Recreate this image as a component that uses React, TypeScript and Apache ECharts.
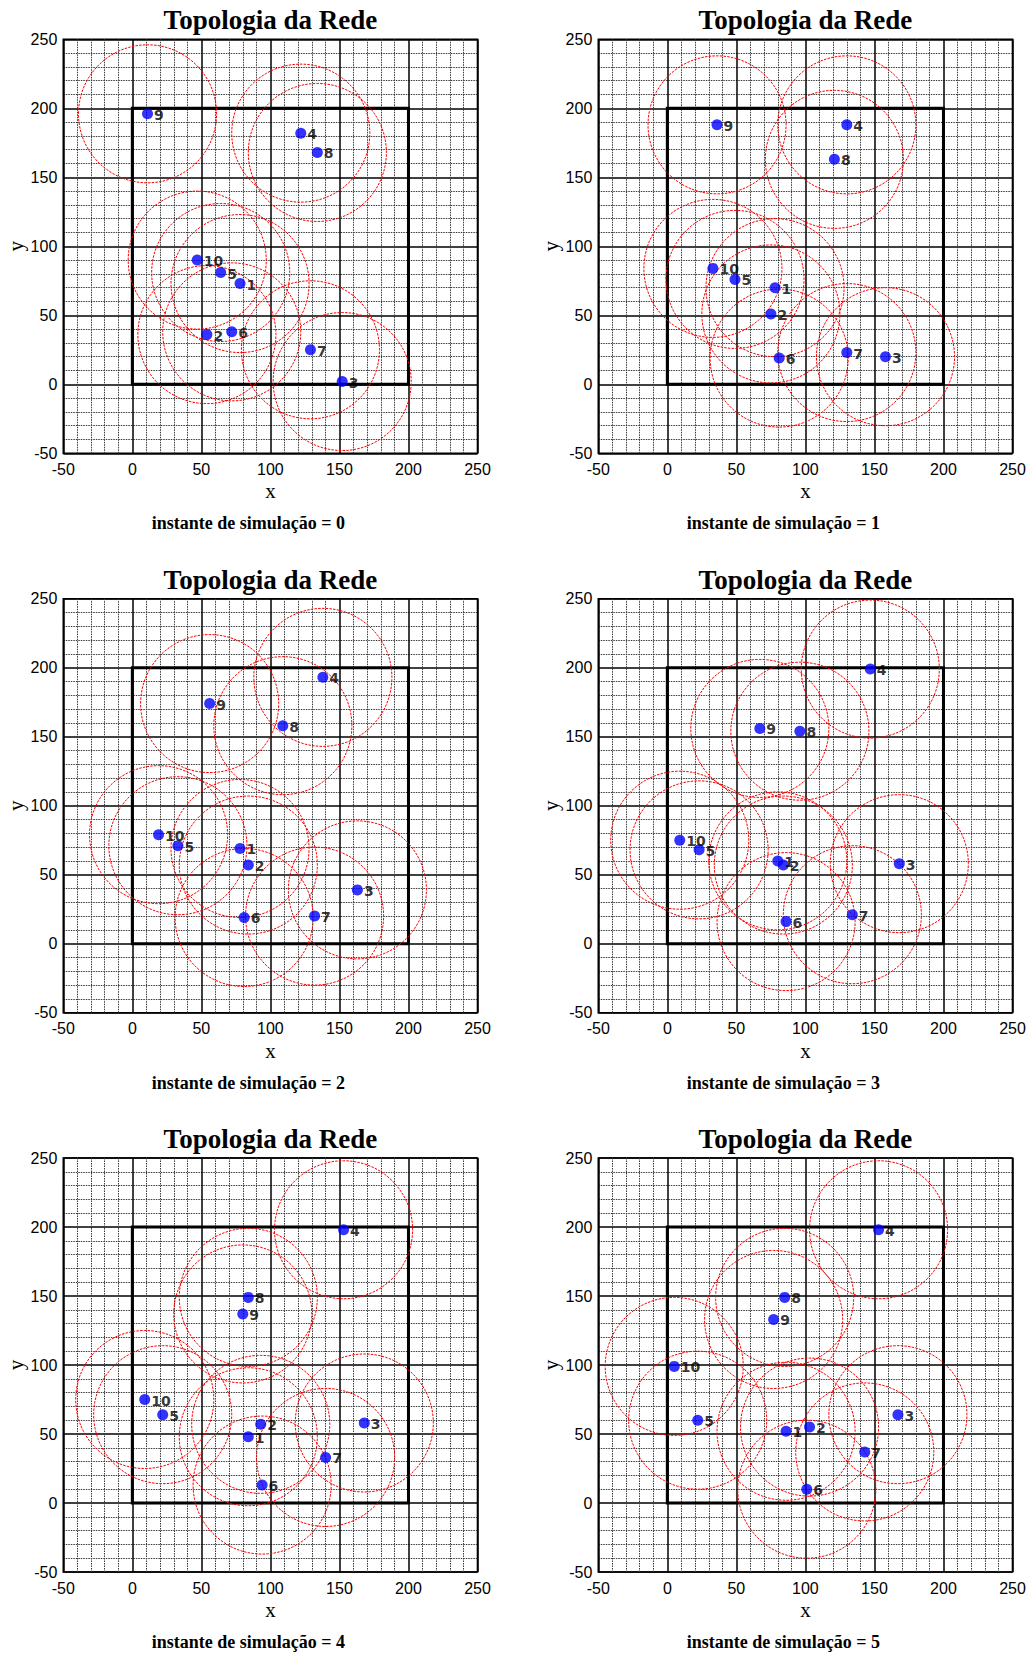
import React, { useEffect, useRef } from "react";
import * as echarts from "echarts";

// ---- data ----
const nodeIds = [1, 2, 3, 4, 5, 6, 7, 8, 9, 10];
const instants = [0, 1, 2, 3, 4, 5];
const RANGE = 50; // transmission radius
const AREA_MIN = 0;
const AREA_MAX = 200;
const AXIS_MIN = -50;
const AXIS_MAX = 250;
const AXIS_STEP = 50;

const posX_t0 = [78, 54, 152, 122, 64, 72, 129, 134, 11, 47];
const posY_t0 = [73, 36, 2, 182, 81, 38, 25, 168, 196, 90];
const posX_t1 = [78, 75, 158, 130, 49, 81, 130, 121, 36, 33];
const posY_t1 = [70, 51, 20, 188, 76, 19, 23, 163, 188, 84];
const posX_t2 = [78, 84, 163, 138, 33, 81, 132, 109, 56, 19];
const posY_t2 = [69, 57, 39, 193, 71, 19, 20, 158, 174, 79];
const posX_t3 = [80, 84, 168, 147, 23, 86, 134, 96, 67, 9];
const posY_t3 = [60, 57, 58, 199, 68, 16, 21, 154, 156, 75];
const posX_t4 = [84, 93, 168, 153, 22, 94, 140, 84, 80, 9];
const posY_t4 = [48, 57, 58, 198, 64, 13, 33, 149, 137, 75];
const posX_t5 = [86, 103, 167, 153, 22, 101, 143, 85, 77, 5];
const posY_t5 = [52, 55, 64, 198, 60, 10, 37, 149, 133, 99];

const allX = [posX_t0, posX_t1, posX_t2, posX_t3, posX_t4, posX_t5];
const allY = [posY_t0, posY_t1, posY_t2, posY_t3, posY_t4, posY_t5];

// ---- layout ----
const COL_LEFT = [63.3, 598.3];
const ROW_TOP = [39.3, 598.7, 1158];
const GRID_W = 414.2;
const GRID_H = 414;

export default function App() {
  const ref = useRef<HTMLDivElement>(null);

  useEffect(() => {
    document.body.style.margin = "0";
    const chart = echarts.init(ref.current!, null, { renderer: "svg" });

    const grids: any[] = [];
    const xAxes: any[] = [];
    const yAxes: any[] = [];
    const series: any[] = [];
    const graphics: any[] = [];

    instants.forEach((t, i) => {
      const row = Math.floor(i / 2);
      const col = i % 2;
      const left = COL_LEFT[col];
      const top = ROW_TOP[row];
      const cx = left + GRID_W / 2;
      const bottom = top + GRID_H;

      grids.push({
        left,
        top,
        width: GRID_W,
        height: GRID_H,
        show: true,
        borderColor: "#000",
        borderWidth: 1.6,
        backgroundColor: "transparent",
      });

      const axisCommon = {
        type: "value",
        gridIndex: i,
        min: AXIS_MIN,
        max: AXIS_MAX,
        interval: AXIS_STEP,
        axisLine: { show: false },
        axisTick: { show: false },
        splitLine: { show: true, lineStyle: { color: "#000", width: 1.5 } },
        minorTick: { show: false, splitNumber: 5 },
        minorSplitLine: {
          show: true,
          lineStyle: { color: "#3a3a3a", width: 1, type: [1.5, 1] },
        },
      };
      xAxes.push({
        ...axisCommon,
        axisLabel: {
          fontSize: 16,
          fontFamily: "Liberation Sans",
          color: "#000",
          margin: 8,
          showMinLabel: true,
          showMaxLabel: true,
        },
      });
      yAxes.push({
        ...axisCommon,
        axisLabel: {
          fontSize: 16,
          fontFamily: "Liberation Sans",
          color: "#000",
          margin: 6,
          showMinLabel: true,
          showMaxLabel: true,
        },
      });

      const xs = allX[i];
      const ys = allY[i];
      const pts = nodeIds.map((id, k) => [xs[k], ys[k], id]);

      series.push({
        type: "custom",
        xAxisIndex: i,
        yAxisIndex: i,
        silent: true,
        z: 3,
        data: pts,
        renderItem: (params: any, api: any) => {
          const c = api.coord([api.value(0), api.value(1)]);
          const s = api.size([RANGE, RANGE]);
          return {
            type: "ellipse",
            shape: { cx: c[0], cy: c[1], rx: s[0], ry: s[1] },
            style: {
              fill: "none",
              stroke: "#ff0000",
              lineWidth: 1,
              lineDash: [2.5, 1.2],
            },
            silent: true,
          };
        },
      });

      series.push({
        type: "scatter",
        xAxisIndex: i,
        yAxisIndex: i,
        z: 5,
        symbol: "circle",
        symbolSize: 11,
        itemStyle: { color: "#0000ff" },
        data: pts,
        label: {
          show: true,
          position: "right",
          distance: 1,
          formatter: (p: any) => String(p.value[2]),
          fontFamily: "DejaVu Sans",
          fontWeight: "bold",
          fontSize: 14,
          color: "#000",
          offset: [0, 1],
        },
        markArea: {
          silent: true,
          itemStyle: {
            color: "transparent",
            borderColor: "#000",
            borderWidth: 3,
          },
          data: [[{ coord: [AREA_MIN, AREA_MIN] }, { coord: [AREA_MAX, AREA_MAX] }]],
        },
      });

      const textStyle = (text: string, font: string) => ({
        text,
        font,
        fill: "#000",
        align: "center",
        verticalAlign: "middle",
        textAlign: "center",
        textVerticalAlign: "middle",
      });

      graphics.push({
        type: "text",
        x: cx,
        y: top - 19,
        style: textStyle("Topologia da Rede", 'bold 27px "Liberation Serif"'),
      });
      graphics.push({
        type: "text",
        x: cx,
        y: bottom + 38,
        style: textStyle("x", '21px "Liberation Serif"'),
      });
      graphics.push({
        type: "text",
        x: left - 47.8,
        y: top + GRID_H / 2,
        rotation: Math.PI / 2,
        style: textStyle("y", '21px "Liberation Serif"'),
      });
      graphics.push({
        type: "text",
        x: cx - 22,
        y: bottom + 70,
        style: textStyle("instante de simulação = " + t, 'bold 18px "Liberation Serif"'),
      });
    });

    chart.setOption({
      animation: false,
      backgroundColor: "#fff",
      grid: grids,
      xAxis: xAxes,
      yAxis: yAxes,
      series,
      graphic: { elements: graphics },
    });

    return () => chart.dispose();
  }, []);

  return <div ref={ref} style={{ width: 1033, height: 1657 }} />;
}
